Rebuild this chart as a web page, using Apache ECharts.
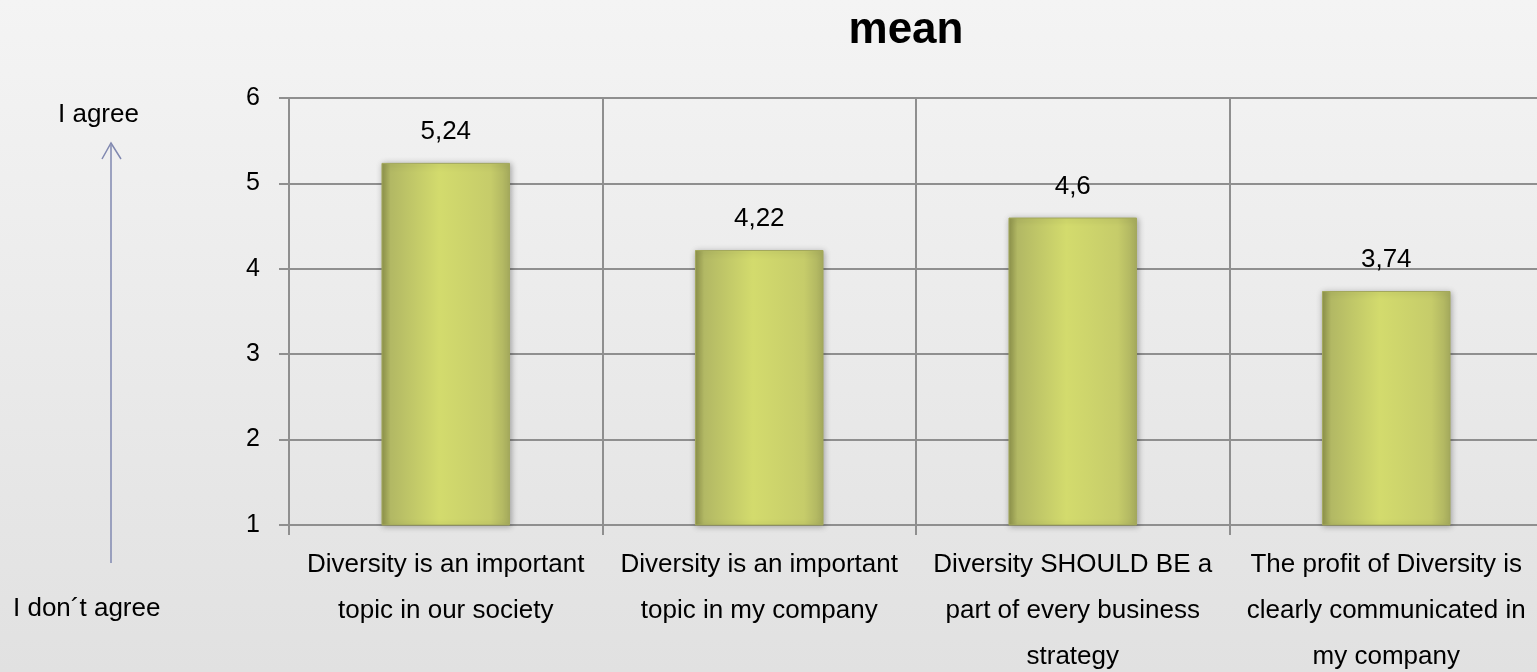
<!DOCTYPE html>
<html><head><meta charset="utf-8">
<script src="https://cdn.jsdelivr.net/npm/echarts@6/dist/echarts.min.js"></script>
<style>html,body{margin:0;padding:0;}#c{width:1537px;height:672px;}</style>
</head><body><div id="c"></div>
<script>
const categories = [
  "Diversity is an important\ntopic in our society",
  "Diversity is an important\ntopic in my company",
  "Diversity SHOULD BE a\npart of every business\nstrategy",
  "The profit of Diversity is\nclearly communicated in\nmy company"
];
const meanValues = [5.24, 4.22, 4.6, 3.74];
const yTicks = [1, 2, 3, 4, 5, 6];
const titleText = "mean";
const topNote = "I agree";
const bottomNote = "I don\u00b4t agree";

const chart = echarts.init(document.getElementById('c'));
const font = "'Liberation Sans', Arial, sans-serif";
const gridColor = '#8f8f8f';
chart.setOption({
  backgroundColor: new echarts.graphic.LinearGradient(0, 0, 0, 1, [
    {offset: 0, color: '#f4f4f4'}, {offset: 1, color: '#e1e1e1'}
  ]),
  animation: false,
  title: {
    text: titleText, left: 901, top: 4, textAlign: 'center',
    textStyle: {fontFamily: font, fontSize: 44, fontWeight: 'bold', color: '#000'}
  },
  grid: {left: 289, top: 98, width: 1254, bottom: 147, outerBoundsMode: 'none', containLabel: false},
  xAxis: {
    type: 'category', data: categories, boundaryGap: true,
    axisLine: {lineStyle: {color: gridColor, width: 2}},
    axisTick: {show: true, length: 10, lineStyle: {color: gridColor, width: 2}},
    splitLine: {show: true, lineStyle: {color: gridColor, width: 2}},
    axisLabel: {fontFamily: font, fontSize: 26, color: '#000', lineHeight: 46, margin: 17, interval: 0}
  },
  yAxis: {
    type: 'value', min: yTicks[0], max: yTicks[yTicks.length - 1], interval: 1,
    axisLine: {show: true, lineStyle: {color: gridColor, width: 2}},
    axisTick: {show: true, length: 10, lineStyle: {color: gridColor, width: 2}},
    splitLine: {show: true, lineStyle: {color: gridColor, width: 2}},
    axisLabel: {fontFamily: font, fontSize: 25, color: '#000', margin: 29}
  },
  series: [{
    type: 'bar', data: meanValues, barWidth: '41%',
    itemStyle: {
      color: new echarts.graphic.LinearGradient(0, 0, 1, 0, [
        {offset: 0, color: '#8f944c'},
        {offset: 0.07, color: '#b2b864'},
        {offset: 0.45, color: '#d3db6d'},
        {offset: 0.85, color: '#c6cc6a'},
        {offset: 1, color: '#a9ae5f'}
      ]),
      borderColor: '#a3a85c', borderWidth: 1,
      shadowColor: 'rgba(0,0,0,0.3)', shadowBlur: 6, shadowOffsetX: 1, shadowOffsetY: 1
    },
    label: {
      show: true, position: 'top', distance: 18,
      fontFamily: font, fontSize: 26, color: '#000',
      formatter: p => String(p.value).replace('.', ',')
    }
  }],
  graphic: [
    {type: 'text', x: 58, y: 115, style: {text: topNote, font: "26px " + font, fill: '#000', textAlign: 'left', textVerticalAlign: 'middle'}},
    {type: 'text', x: 13, y: 609, style: {text: bottomNote, font: "26px " + font, fill: '#000', textAlign: 'left', textVerticalAlign: 'middle'}},
    {type: 'line', shape: {x1: 111, y1: 145, x2: 111, y2: 563}, style: {stroke: '#8088b0', lineWidth: 1.5}},
    {type: 'polyline', shape: {points: [[102, 159], [111, 143], [121, 159]]}, style: {stroke: '#8088b0', lineWidth: 1.5, fill: null}}
  ]
});
</script></body></html>
